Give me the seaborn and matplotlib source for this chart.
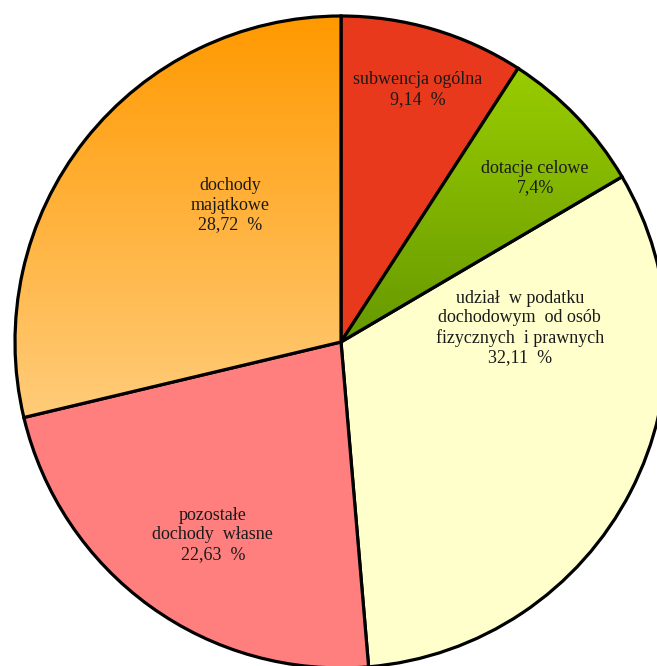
import numpy as np
import matplotlib
matplotlib.use("Agg")
import matplotlib.pyplot as plt
from matplotlib.colors import LinearSegmentedColormap
import seaborn as sns

# ---- data ----
categories = ["subwencja ogólna", "dotacje celowe",
              "udział  w podatku\ndochodowym  od osób\nfizycznych  i prawnych",
              "pozostałe\ndochody  własne", "dochody\nmajątkowe"]
shares = [9.14, 7.4, 32.11, 22.63, 28.72]
share_labels = ["9,14  %", "7,4%", "32,11  %", "22,63  %", "28,72  %"]

# ---- style ----
sns.set_theme(style="white")
plt.rcParams['font.family'] = ['Liberation Serif', 'DejaVu Serif']

colors = ["#E8391D", "#99CC00", "#FFFFCC", "#FF7F7F", "#FF9900"]
gradients = {1: ("#99CC00", "#669900"), 4: ("#FF9900", "#FFCC7A")}
# label positions (angle deg, fraction of radius)
label_pos = [(73.1, 0.81), (40.2, 0.78), (4.5, 0.55), (-123.6, 0.71), (129.0, 0.54)]

W, H = 657, 666
fig = plt.figure(figsize=(W / 100, H / 100), dpi=100)
ax = fig.add_axes([0, 0, 1, 1])

cx, cy, R = 341, H - 342, 326
wedges, _ = ax.pie(shares, colors=colors, startangle=90, counterclock=False,
                   center=(cx, cy), radius=R, frame=True,
                   wedgeprops=dict(edgecolor='black', linewidth=2.3))
ax.set_aspect('equal')
ax.axis('off')

for i, (c_top, c_bot) in gradients.items():
    w = wedges[i]
    verts = w.get_path().vertices
    x0, x1 = verts[:, 0].min(), verts[:, 0].max()
    y0, y1 = verts[:, 1].min(), verts[:, 1].max()
    cmap = LinearSegmentedColormap.from_list("g%d" % i, [c_bot, c_top])
    grad = np.linspace(0, 1, 256).reshape(-1, 1)
    im = ax.imshow(grad, cmap=cmap, extent=(x0, x1, y0, y1), origin='lower',
                   aspect='auto', zorder=w.get_zorder() + 0.1)
    im.set_clip_path(w)
    w.set_facecolor('none')
    w.set_zorder(w.get_zorder() + 0.2)

for i, (ang, frac) in enumerate(label_pos):
    a = np.deg2rad(ang)
    x = cx + frac * R * np.cos(a)
    y = cy + frac * R * np.sin(a)
    ax.text(x, y, categories[i] + "\n" + share_labels[i], ha='center', va='center',
            fontsize=13, color='#1a1a1a', linespacing=1.2, zorder=10)

ax.set_xlim(0, W)
ax.set_ylim(0, H)
ax.set_aspect('equal')
fig.savefig("out.png", dpi=100)
